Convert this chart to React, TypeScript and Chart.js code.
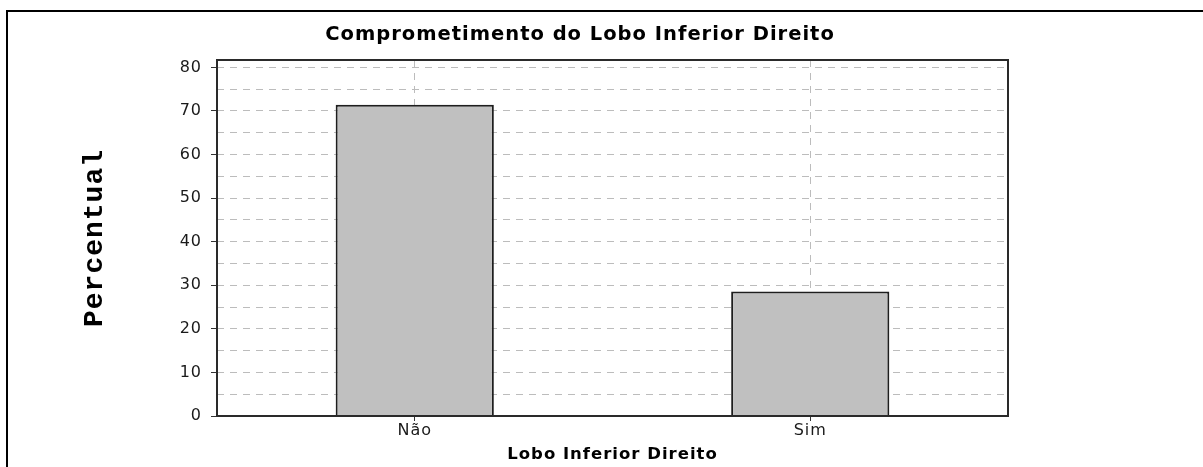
import React, { useEffect, useRef } from "react";
import { Chart, registerables } from "chart.js";

Chart.register(...registerables);

const chartTitle = "Comprometimento do Lobo Inferior Direito";
const xAxisTitle = "Lobo Inferior Direito";
const yAxisTitle = "Percentual";
const categories = ["Não", "Sim"];
const percentValues = [71.43, 28.57];
const yTickValues = [0, 5, 10, 15, 20, 25, 30, 35, 40, 45, 50, 55, 60, 65, 70, 75, 80];
const yMax = 81.7;

const spacingPlugin = {
  id: "spacing",
  beforeUpdate(chart: any) {
    chart.ctx.letterSpacing = "1px";
  },
  beforeDraw(chart: any) {
    chart.ctx.letterSpacing = "1px";
  },
};

const framePlugin = {
  id: "frame",
  afterDatasetsDraw(chart: any) {
    const { ctx, chartArea } = chart;
    ctx.save();
    ctx.strokeStyle = "#2a2a2a";
    ctx.lineWidth = 2;
    ctx.strokeRect(chartArea.left, chartArea.top, chartArea.right - chartArea.left, chartArea.bottom - chartArea.top);
    ctx.restore();
  },
};

export default function App() {
  const ref = useRef<HTMLCanvasElement | null>(null);

  useEffect(() => {
    if (!ref.current) return;
    const chart = new Chart(ref.current, {
      type: "bar",
      data: {
        labels: categories,
        datasets: [
          {
            data: percentValues,
            backgroundColor: "#c0c0c0",
            borderColor: "#1e1e1e",
            borderWidth: 2,
            barPercentage: 0.4,
            categoryPercentage: 1,
          },
        ],
      },
      options: {
        animation: false,
        responsive: false,
        devicePixelRatio: 1,
        layout: { padding: { left: 60, right: 103, top: 0, bottom: 0 } },
        plugins: {
          legend: { display: false },
          tooltip: { enabled: false },
          title: {
            display: true,
            text: chartTitle,
            color: "#000",
            font: { family: "'DejaVu Sans', Verdana, sans-serif", size: 19.5, weight: "bold", lineHeight: 1.2 },
            padding: { top: 22.8, bottom: 13.8 },
          },
        },
        scales: {
          x: {
            type: "category",
            grid: {
              offset: false,
              color: "#bcbcbc",
              lineWidth: 1,
              tickLength: 5,
              tickColor: "#333",
              tickWidth: 1,
            },
            border: { display: false, dash: [7, 6] },
            ticks: {
              color: "#1a1a1a",
              padding: 0,
              font: { family: "'DejaVu Sans', Verdana, sans-serif", size: 16 },
            },
            title: {
              display: true,
              text: xAxisTitle,
              color: "#000",
              font: { family: "'DejaVu Sans', Verdana, sans-serif", size: 16.5, weight: "bold", lineHeight: 1.2 },
              padding: { top: 0, bottom: 2.2 },
            },
            afterFit(s: any) {
              s.height = 51;
            },
          },
          y: {
            type: "linear",
            min: 0,
            max: yMax,
            afterBuildTicks(s: any) {
              s.ticks = yTickValues.map((v) => ({ value: v }));
            },
            grid: {
              color: "#bcbcbc",
              lineWidth: 1,
              tickLength: 6,
              tickWidth: 1,
              tickColor: (c: any) => (c.tick && c.tick.value % 10 === 0 ? "#333" : "rgba(0,0,0,0)"),
            },
            border: { display: false, dash: [7, 6] },
            ticks: {
              color: "#1a1a1a",
              padding: 9,
              font: { family: "'DejaVu Sans', Verdana, sans-serif", size: 16 },
              callback: (v: any) => (Number(v) % 10 === 0 ? String(v) : ""),
            },
            title: {
              display: true,
              text: yAxisTitle,
              color: "#000",
              font: { family: "'Liberation Mono', 'Courier New', monospace", size: 28, weight: "bold", lineHeight: 1.2 },
              padding: { top: 18.2, bottom: 0 },
            },
            afterFit(s: any) {
              s.width = 157;
            },
          },
          y2: {
            type: "linear",
            position: "right",
            display: true,
            grid: { display: false, drawOnChartArea: false, drawTicks: false },
            border: { display: false },
            ticks: { display: false },
            afterFit(s: any) {
              s.width = 92;
            },
          },
        },
      },
      plugins: [spacingPlugin, framePlugin],
    } as any);
    return () => chart.destroy();
  }, []);

  return (
    <div>
      <div
        style={{
          position: "fixed",
          left: 6,
          top: 10,
          width: 1197,
          height: 457,
          boxSizing: "border-box",
          borderTop: "2px solid #000",
          borderLeft: "2px solid #000",
        }}
      />
      <canvas
        ref={ref}
        width={1203}
        height={467}
        style={{ position: "fixed", left: 0, top: 0, width: 1203, height: 467 }}
      />
    </div>
  );
}
